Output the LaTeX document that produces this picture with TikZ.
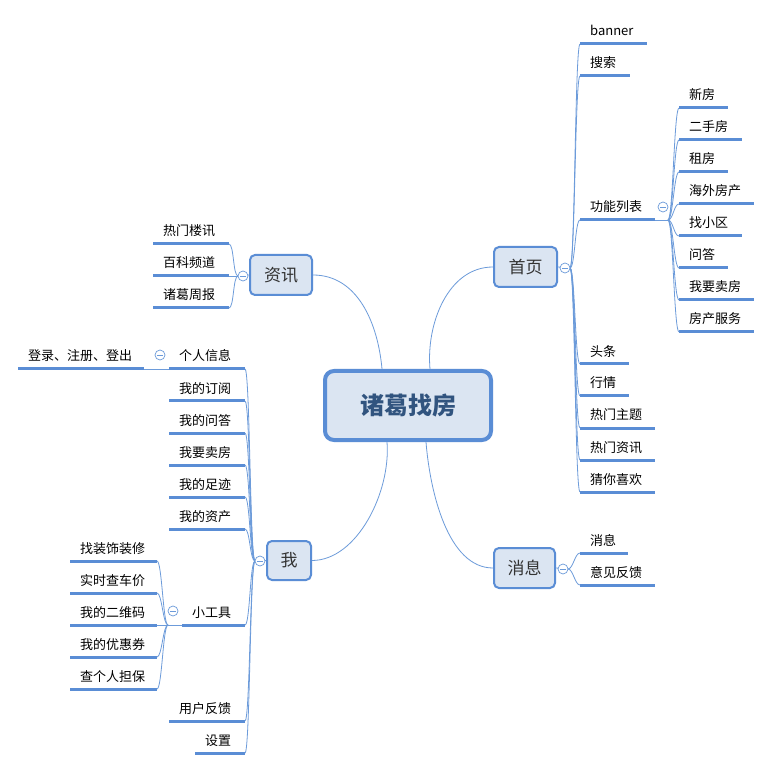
\documentclass[tikz,border=0pt]{standalone}
\usepackage{fontspec}
\setmainfont{Noto Sans CJK SC}
\usetikzlibrary{calc}
\definecolor{lineblue}{HTML}{5A8DD5}
\definecolor{thinblue}{HTML}{6C9BDA}
\definecolor{boxfill}{HTML}{DBE5F2}
\definecolor{roottext}{HTML}{31547F}
\tikzset{
  uline/.style={draw=lineblue, line width=3pt},
  conn/.style={draw=thinblue, line width=0.8pt},
  kidtext/.style={font=\fontsize{13}{13}\selectfont, inner sep=0pt, anchor=base west, text=black},
  topicbox/.style={draw=lineblue, line width=2pt, fill=boxfill, rounded corners=5pt, font=\fontsize{17}{17}\selectfont, text=black!80, inner sep=0pt},
  rootbox/.style={draw=lineblue, line width=4pt, fill=boxfill, rounded corners=9pt, font=\fontsize{24}{24}\selectfont\bfseries, text=roottext, inner sep=0pt, minimum width=166pt, minimum height=69pt},
  fold/.style={circle, draw=thinblue, line width=0.7pt, fill=white, minimum size=10pt, inner sep=0pt,
    path picture={\draw[thinblue, line width=0.7pt] ($(path picture bounding box.center)+(-3pt,0)$) -- ($(path picture bounding box.center)+(3pt,0)$);}}
}
\newcommand{\kid}[5]{%
  \draw[uline] (#2,#4) coordinate (#1-l) -- (#3,#4) coordinate (#1-r);
  \node[kidtext] (#1) at (#2+10,#4-8) {#5};
}
\newcommand{\rlink}[2]{\draw[conn] (#1) .. controls ($(#1)+(5,0)$) and ($(#2)+(-5,0)$) .. (#2);}
\newcommand{\llink}[2]{\draw[conn] (#1) .. controls ($(#1)+(-5,0)$) and ($(#2)+(5,0)$) .. (#2);}
\begin{document}
\begin{tikzpicture}[x=1pt,y=-1pt]
\fill[white] (0,0) rectangle (772,770);
\useasboundingbox (0,0) rectangle (772,770);

% main topics
\node[rootbox] (root) at (408,405.5) {诸葛找房};
\node[topicbox, minimum width=63pt, minimum height=40pt] (home) at (525.5,267) {首页};
\node[topicbox, minimum width=62pt, minimum height=40pt] (news) at (281,275) {资讯};
\node[topicbox, minimum width=61pt, minimum height=40pt] (msg) at (524.5,568) {消息};
\node[topicbox, minimum width=44pt, minimum height=39pt] (me) at (289,560.5) {我};

% root connectors
\draw[conn] (home.west) .. controls ($(home.west)+(-45,0)$) and ($(root.north)+(18,-45)$) .. ($(root.north)+(22,0)$);
\draw[conn] (news.east) .. controls ($(news.east)+(45,0)$) and ($(root.north)+(-30,-45)$) .. ($(root.north)+(-26,0)$);
\draw[conn] (msg.west) .. controls ($(msg.west)+(-45,0)$) and ($(root.south)+(22,50)$) .. ($(root.south)+(18,0)$);
\draw[conn] (me.east) .. controls ($(me.east)+(45,0)$) and ($(root.south)+(-17,50)$) .. ($(root.south)+(-21,0)$);

% 首页 branch
\coordinate (hj) at (570,268);
\draw[conn] (home.east) -- (hj);
\kid{h1}{580}{647}{44}{banner}
\kid{h2}{580}{630}{76}{搜索}
\kid{h3}{580}{655}{220}{功能列表}
\kid{h4}{580}{629}{364}{头条}
\kid{h5}{580}{629}{396}{行情}
\kid{h6}{580}{655}{428}{热门主题}
\kid{h7}{580}{655}{460}{热门资讯}
\kid{h8}{580}{655}{492}{猜你喜欢}
\foreach \k in {h1,h2,h3,h4,h5,h6,h7,h8}{\rlink{hj}{\k-l}}

% 功能列表 sub-branch
\coordinate (fj) at (668,220);
\draw[conn] (h3-r) -- (fj);
\kid{f1}{679}{728}{108}{新房}
\kid{f2}{679}{742}{140}{二手房}
\kid{f3}{679}{728}{172}{租房}
\kid{f4}{679}{754}{204}{海外房产}
\kid{f5}{679}{742}{236}{找小区}
\kid{f6}{679}{728}{268}{问答}
\kid{f7}{679}{754}{300}{我要卖房}
\kid{f8}{679}{754}{332}{房产服务}
\foreach \k in {f1,f2,f3,f4,f5,f6,f7,f8}{\rlink{fj}{\k-l}}

% 消息 branch
\coordinate (mj) at (568,569);
\draw[conn] (msg.east) -- (mj);
\kid{m1}{580}{628}{553}{消息}
\kid{m2}{580}{655}{585}{意见反馈}
\foreach \k in {m1,m2}{\rlink{mj}{\k-l}}

% 资讯 branch
\coordinate (nj) at (238,276);
\draw[conn] (news.west) -- (nj);
\kid{n1}{153}{229}{244}{热门楼讯}
\kid{n2}{153}{229}{276}{百科频道}
\kid{n3}{153}{229}{308}{诸葛周报}
\foreach \k in {n1,n2,n3}{\llink{nj}{\k-r}}

% 我 branch
\coordinate (wj) at (255,561);
\draw[conn] (me.west) -- (wj);
\kid{w1}{169}{245}{369}{个人信息}
\kid{w2}{169}{245}{401}{我的订阅}
\kid{w3}{169}{245}{433}{我的问答}
\kid{w4}{169}{245}{465}{我要卖房}
\kid{w5}{169}{245}{497}{我的足迹}
\kid{w6}{169}{245}{529}{我的资产}
\kid{w7}{182}{245}{625}{小工具}
\kid{w8}{169}{245}{721}{用户反馈}
\kid{w9}{195}{245}{753}{设置}
\foreach \k in {w1,w2,w3,w4,w5,w6,w7,w8,w9}{\llink{wj}{\k-r}}

% 个人信息 child
\kid{wl}{18}{144}{369}{登录、注册、登出}
\draw[conn] (wl-r) -- (w1-l);

% 小工具 children
\coordinate (tj) at (168,625);
\draw[conn] (tj) -- (w7-l);
\kid{t1}{70}{157}{561}{找装饰装修}
\kid{t2}{70}{157}{593}{实时查车价}
\kid{t3}{70}{157}{625}{我的二维码}
\kid{t4}{70}{157}{657}{我的优惠券}
\kid{t5}{70}{157}{689}{查个人担保}
\foreach \k in {t1,t2,t3,t4,t5}{\llink{tj}{\k-r}}

% fold markers
\node[fold] (homefold) at (565,268) {};
\node[fold] (h3fold) at (663,207) {};
\node[fold] (msgfold) at (563,569) {};
\node[fold] (newsfold) at (243,276) {};
\node[fold] (mefold) at (260,561) {};
\node[fold] (w1fold) at (160,355) {};
\node[fold] (w7fold) at (173,611) {};
\end{tikzpicture}
\end{document}
